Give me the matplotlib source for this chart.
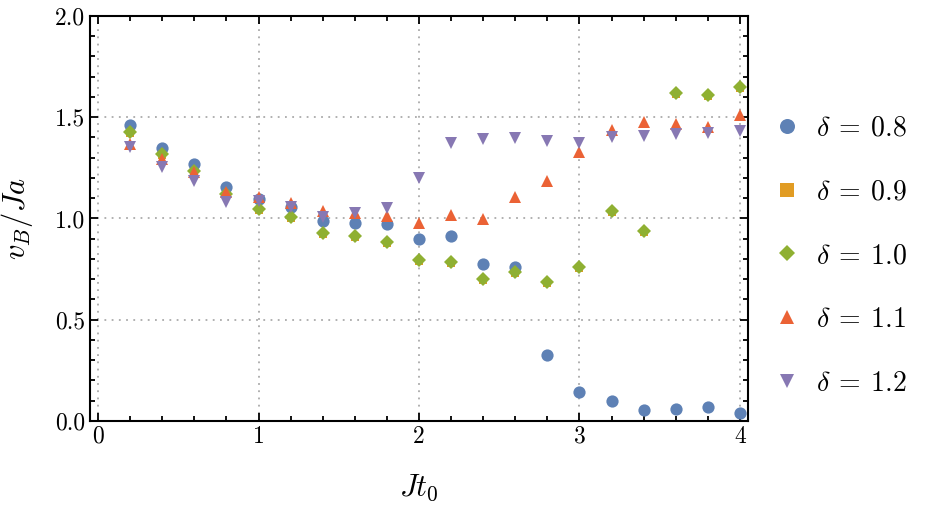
import matplotlib
matplotlib.use("Agg")
import matplotlib.pyplot as plt
from matplotlib.ticker import MultipleLocator, FormatStrFormatter

plt.rcParams['font.family'] = 'cmr10'
plt.rcParams['mathtext.fontset'] = 'cm'
plt.rcParams['axes.formatter.use_mathtext'] = True

x = [0.2, 0.4, 0.6, 0.8, 1.0, 1.2, 1.4, 1.6, 1.8, 2.0,
     2.2, 2.4, 2.6, 2.8, 3.0, 3.2, 3.4, 3.6, 3.8, 4.0]

v08 = [1.46, 1.35, 1.27, 1.155, 1.096, 1.055, 0.99, 0.976, 0.973, 0.899,
       0.915, 0.777, 0.762, 0.326, 0.145, 0.099, 0.054, 0.059, 0.069, 0.041]
v09 = [1.424, 1.313, 1.231, 1.114, 1.043, 1.001, 0.922, 0.910, 0.877, 0.790,
       0.782, 0.696, 0.729, 0.683, 0.757, 1.034, 0.933, 1.616, 1.603, 1.646]
v10 = [1.429, 1.318, 1.236, 1.12, 1.048, 1.006, 0.927, 0.915, 0.882, 0.795,
       0.787, 0.701, 0.734, 0.688, 0.762, 1.039, 0.938, 1.621, 1.608, 1.651]
v11 = [1.366, 1.294, 1.231, 1.13, 1.108, 1.078, 1.039, 1.026, 1.014, 0.979,
       1.016, 0.999, 1.105, 1.185, 1.327, 1.437, 1.475, 1.465, 1.453, 1.511]
v12 = [1.355, 1.253, 1.187, 1.081, 1.086, 1.057, 1.009, 1.026, 1.05, 1.198,
       1.374, 1.393, 1.398, 1.384, 1.371, 1.404, 1.407, 1.417, 1.421, 1.434]

labels = [r'$\delta\:=\:0.8$', r'$\delta\:=\:0.9$', r'$\delta\:=\:1.0$',
          r'$\delta\:=\:1.1$', r'$\delta\:=\:1.2$']
colors = ['#5E81B5', '#E19C24', '#8FB032', '#EB6235', '#8778B3']
markers = ['o', 's', 'D', '^', 'v']
sizes = [8.8, 6.2, 7.2, 8.8, 8.8]
legend_sizes = [10.8, 9.8, 8.2, 10, 10]
series = [v08, v09, v10, v11, v12]

fig = plt.figure(figsize=(9.25, 5.09), dpi=100)
ax = fig.add_axes([0.0973, 0.1729, 0.7113, 0.7957])

for vals, lab, c, m, s in zip(series, labels, colors, markers, sizes):
    ax.plot(x, vals, linestyle='none', marker=m, color=c, markersize=s,
            markeredgewidth=0, label=lab)

ax.set_xlim(-0.05, 4.05)
ax.set_ylim(0, 2)
ax.xaxis.set_major_locator(MultipleLocator(1))
ax.xaxis.set_minor_locator(MultipleLocator(0.2))
ax.yaxis.set_major_locator(MultipleLocator(0.5))
ax.yaxis.set_minor_locator(MultipleLocator(0.1))
ax.xaxis.set_major_formatter(FormatStrFormatter('%d'))
ax.yaxis.set_major_formatter(FormatStrFormatter('%.1f'))

ax.tick_params(which='both', direction='in', top=True, right=True,
               labelsize=17, width=1.3)
ax.tick_params(which='major', length=6)
ax.tick_params(which='minor', length=3.5)
for sp in ax.spines.values():
    sp.set_linewidth(1.5)

ax.grid(True, which='major', linestyle=(0, (1, 3)), color='#aaaaaa',
        linewidth=1.3)
ax.set_axisbelow(True)

ax.set_xlabel(r'$Jt_0$', fontsize=22, labelpad=18)
ax.set_ylabel(r'$v_B/Ja$', fontsize=22, labelpad=14)

leg = fig.legend(loc='center left', bbox_to_anchor=(0.833, 0.497),
                 bbox_transform=fig.transFigure, frameon=False,
                 fontsize=20, handletextpad=0.45, borderpad=0,
                 borderaxespad=0, labelspacing=1.35, handlelength=1.2)
for h, ls in zip(leg.legend_handles, legend_sizes):
    h.set_markersize(ls)

fig.savefig('out.png', dpi=100)
